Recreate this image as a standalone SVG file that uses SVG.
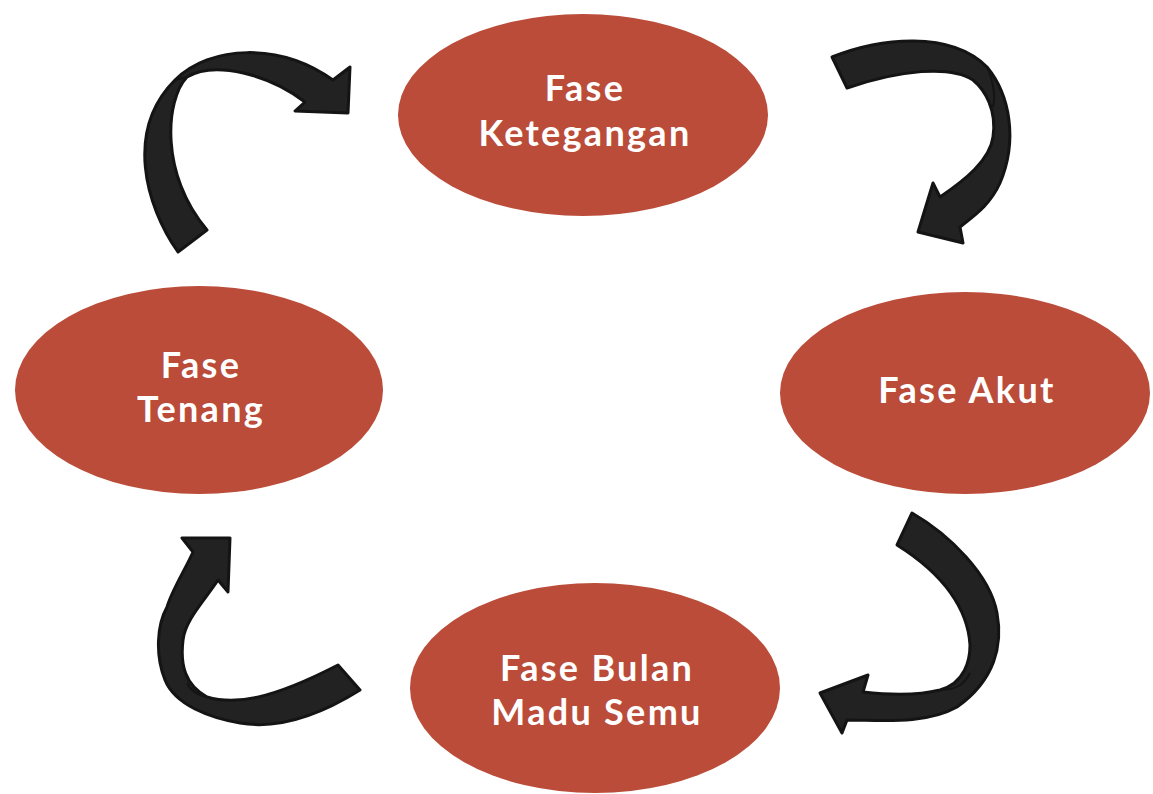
<svg xmlns="http://www.w3.org/2000/svg" width="1153" height="794" viewBox="0 0 1153 794">
<style>
.node{fill:#BA4C39;}
.lbl{font-family:Lato,"Liberation Sans",sans-serif;font-weight:700;font-size:36px;letter-spacing:2.3px;fill:#FFFFFF;text-anchor:middle;}
.arr{fill:#222222;stroke:#141414;stroke-width:3;stroke-linejoin:round;}
.twist{fill:none;stroke:#141414;stroke-width:2;}
</style>
<rect width="1153" height="794" fill="#FFFFFF"/>
<g id="node-ketegangan">
<ellipse class="node" cx="583" cy="115" rx="185" ry="101"/>
<text class="lbl" x="585" y="101">Fase</text>
<text class="lbl" x="585" y="146">Ketegangan</text>
</g>
<g id="node-akut">
<ellipse class="node" cx="965" cy="393" rx="185" ry="101"/>
<text class="lbl" x="967" y="403">Fase Akut</text>
</g>
<g id="node-bulan-madu">
<ellipse class="node" cx="595" cy="688" rx="185" ry="105"/>
<text class="lbl" x="597" y="681">Fase Bulan</text>
<text class="lbl" x="597" y="725">Madu Semu</text>
</g>
<g id="node-tenang">
<ellipse class="node" cx="199" cy="390" rx="184" ry="104"/>
<text class="lbl" x="201" y="378">Fase</text>
<text class="lbl" x="201" y="422">Tenang</text>
</g>
<g id="connectors">
<path class="arr" d="M178,252 C145,205 125,130 175,80 C210,45 280,42 333,80 L350,67 L348,113 L295,111 L305,102 C270,75 215,60 187,77 C165,100 160,175 207,230 Z"/>
<path class="twist" d="M175,80 L187,77"/>
<path class="arr" d="M832,57 C880,38 950,30 987,67 C1010,95 1018,140 1000,183 C990,205 975,215 960,227 L963,243 L918,232 L933,183 L940,197 C965,180 990,160 993,137 C997,110 985,90 973,80 C950,65 900,70 847,88 Z"/>
<path class="twist" d="M987,67 C995,85 995,100 993,107"/>
<path class="arr" d="M912,513 C950,535 990,575 997,613 C1003,645 995,680 957,707 C925,725 880,720 847,720 L842,733 L820,693 L868,675 L863,692 C890,695 920,695 940,690 C965,683 970,660 970,645 C968,610 945,575 897,545 Z"/>
<path class="twist" d="M970,673 C965,683 958,690 940,690"/>
<path class="arr" d="M193,552 L182,538 L230,538 L228,592 L218,580 C205,600 185,620 183,640 C180,665 185,685 207,697 C235,705 270,700 338,665 L360,690 C320,715 280,730 240,723 C210,718 175,705 165,680 C155,655 157,625 167,607 C172,590 185,570 193,552 Z"/>
<path class="twist" d="M187,683 C190,690 198,695 207,697"/>
</g>
</svg>
